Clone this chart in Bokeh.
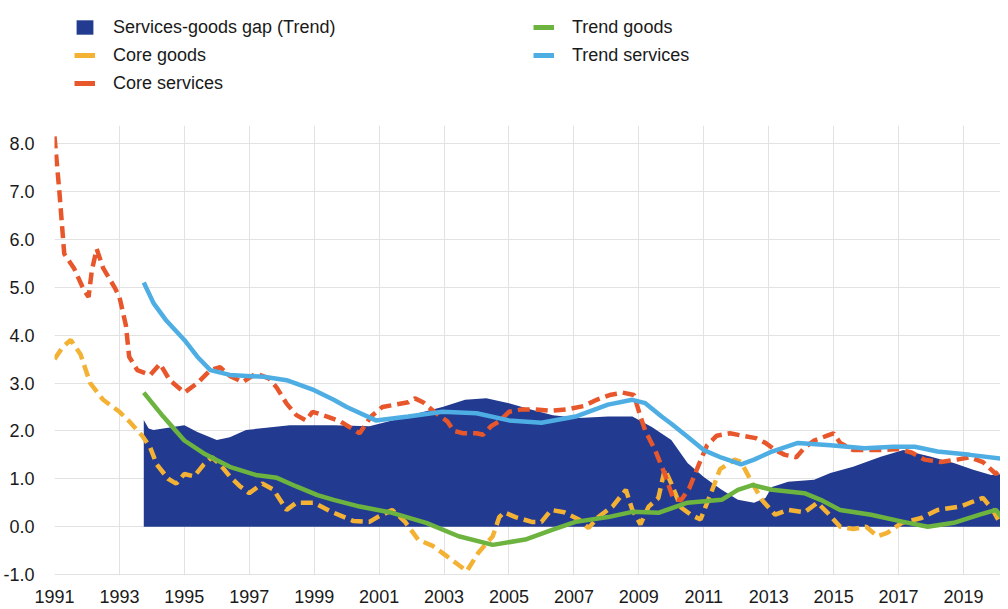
from bokeh.plotting import figure
from bokeh.models import Range1d, FixedTicker, Legend, LegendItem
from bokeh.layouts import column
from bokeh.embed import file_html
from bokeh.resources import INLINE

# ---------------- data ----------------
x_ticks = list(range(1991, 2021, 2))
x_tick_labels = [str(t) for t in x_ticks]
y_ticks = [-1, 0, 1, 2, 3, 4, 5, 6, 7, 8]
y_tick_labels = ["-1.0", "0.0", "1.0", "2.0", "3.0", "4.0", "5.0", "6.0", "7.0", "8.0"]

gap_t = [1993.75, 1993.9, 1994.05, 1995.0, 1995.4, 1996.0, 1996.4, 1996.9, 1997.45, 1998.25,
         1999.6, 2000.7, 2001.4, 2002.2, 2002.95, 2003.65, 2004.3, 2005.0, 2005.7, 2006.35,
         2007.15, 2008.05, 2008.8, 2009.4, 2010.0, 2010.5, 2011.0, 2011.55, 2012.05, 2012.55,
         2012.9, 2013.1, 2013.6, 2014.4, 2014.9, 2015.6, 2016.45, 2017.15, 2018.0, 2018.7,
         2019.3, 2019.85, 2020.17]
gap_v = [2.23, 2.05, 2.02, 2.12, 1.98, 1.81, 1.87, 2.02, 2.06, 2.12,
         2.12, 2.10, 2.22, 2.37, 2.50, 2.65, 2.68, 2.58, 2.44, 2.33,
         2.27, 2.30, 2.30, 2.08, 1.81, 1.33, 1.04, 0.77, 0.56, 0.50,
         0.60, 0.83, 0.94, 0.98, 1.12, 1.25, 1.46, 1.60, 1.46, 1.33,
         1.19, 1.08, 1.10]

core_goods_t = [1991.0, 1991.25, 1991.5, 1991.8, 1992.1, 1992.5, 1993.0, 1993.3, 1993.7, 1993.95,
                1994.15, 1994.5, 1994.75, 1995.0, 1995.3, 1995.6, 1995.85, 1996.1, 1996.4, 1996.7,
                1997.0, 1997.4, 1997.75, 1998.15, 1998.45, 1999.0, 1999.5, 2000.2, 2000.7, 2000.95,
                2001.4, 2001.8, 2002.2, 2002.65, 2003.05, 2003.45, 2003.7, 2004.05, 2004.5, 2004.7,
                2004.85, 2005.2, 2005.7, 2006.0, 2006.3, 2006.7, 2007.15, 2007.45, 2007.75, 2008.2,
                2008.6, 2008.8, 2009.05, 2009.3, 2009.6, 2009.8, 2010.0, 2010.3, 2010.6, 2010.9,
                2011.25, 2011.5, 2011.95, 2012.15, 2012.5, 2012.8, 2013.2, 2013.6, 2014.1, 2014.5,
                2014.8, 2015.2, 2015.6, 2016.0, 2016.35, 2016.65, 2017.1, 2017.7, 2018.2, 2018.9,
                2019.2, 2019.6, 2019.9, 2020.15]
core_goods_v = [3.50, 3.75, 3.90, 3.60, 3.00, 2.65, 2.40, 2.20, 1.90, 1.65,
                1.30, 1.00, 0.90, 1.10, 1.05, 1.30, 1.45, 1.30, 1.05, 0.85,
                0.70, 0.90, 0.77, 0.35, 0.50, 0.50, 0.32, 0.12, 0.10, 0.20,
                0.35, 0.10, -0.27, -0.40, -0.60, -0.80, -0.93, -0.55, -0.20, 0.20,
                0.30, 0.20, 0.10, 0.10, 0.35, 0.30, 0.15, -0.03, 0.20, 0.43,
                0.77, 0.35, 0.05, 0.42, 0.60, 1.20, 0.90, 0.40, 0.25, 0.15,
                0.75, 1.20, 1.40, 1.35, 0.90, 0.55, 0.25, 0.35, 0.30, 0.50,
                0.30, 0.00, -0.05, 0.00, -0.20, -0.13, 0.08, 0.18, 0.35, 0.42,
                0.50, 0.60, 0.35, 0.05]

core_serv_t = [1991.0, 1991.15, 1991.3, 1991.6, 1991.9, 1992.05, 1992.15, 1992.3, 1992.5, 1992.85,
               1993.0, 1993.2, 1993.3, 1993.55, 1993.95, 1994.25, 1994.55, 1995.0, 1995.4, 1995.8,
               1996.1, 1996.4, 1996.8, 1997.2, 1997.6, 1997.85, 1998.15, 1998.45, 1998.75, 1998.95,
               1999.4, 1999.8, 2000.4, 2000.75, 2001.1, 2001.5, 2001.9, 2002.1, 2002.35, 2002.7,
               2003.1, 2003.3, 2003.6, 2004.0, 2004.2, 2004.45, 2004.7, 2005.0, 2005.4, 2005.8,
               2006.3, 2006.8, 2007.3, 2007.7, 2008.1, 2008.5, 2008.85, 2009.05, 2009.2, 2009.5,
               2009.8, 2010.05, 2010.3, 2010.55, 2010.85, 2011.1, 2011.4, 2011.8, 2012.2, 2012.6,
               2012.9, 2013.2, 2013.5, 2013.85, 2014.1, 2014.4, 2014.8, 2015.0, 2015.2, 2015.6,
               2016.0, 2016.5, 2017.0, 2017.4, 2017.8, 2018.3, 2018.8, 2019.2, 2019.6, 2020.0,
               2020.17]
core_serv_v = [8.15, 7.00, 5.70, 5.40, 4.95, 4.80, 5.35, 5.80, 5.40, 5.00,
               4.80, 4.20, 3.55, 3.27, 3.17, 3.40, 3.06, 2.80, 3.00, 3.27,
               3.33, 3.15, 3.02, 3.20, 3.10, 2.90, 2.57, 2.33, 2.22, 2.40,
               2.30, 2.20, 1.95, 2.30, 2.50, 2.55, 2.60, 2.68, 2.60, 2.40,
               2.20, 2.00, 1.95, 1.95, 1.92, 2.10, 2.20, 2.40, 2.45, 2.45,
               2.42, 2.45, 2.52, 2.65, 2.75, 2.80, 2.75, 2.30, 2.00, 1.60,
               1.10, 0.60, 0.55, 0.80, 1.30, 1.70, 1.90, 1.95, 1.90, 1.85,
               1.75, 1.60, 1.50, 1.45, 1.65, 1.80, 1.90, 1.95, 1.75, 1.60,
               1.60, 1.60, 1.62, 1.55, 1.40, 1.35, 1.40, 1.45, 1.35, 1.10,
               1.20]

trend_goods_t = [1993.75, 1994.35, 1995.0, 1995.6, 1996.4, 1997.2, 1997.85, 1998.45, 1999.1, 1999.6,
                 2000.4, 2001.4, 2002.45, 2003.45, 2004.5, 2005.5, 2006.35, 2007.05, 2008.05, 2008.8,
                 2009.6, 2010.5, 2011.55, 2012.05, 2012.5, 2013.1, 2014.1, 2014.6, 2015.2, 2016.15,
                 2017.15, 2017.9, 2018.7, 2019.5, 2020.0, 2020.17]
trend_goods_v = [2.80, 2.30, 1.80, 1.53, 1.25, 1.08, 1.02, 0.84, 0.66, 0.56,
                 0.42, 0.29, 0.08, -0.20, -0.38, -0.27, -0.06, 0.10, 0.20, 0.31,
                 0.29, 0.50, 0.56, 0.77, 0.87, 0.77, 0.70, 0.56, 0.35, 0.25,
                 0.10, 0.00, 0.08, 0.25, 0.35, 0.20]

trend_serv_t = [1993.75, 1994.05, 1994.45, 1995.0, 1995.4, 1995.8, 1996.4, 1997.45, 1998.15, 1999.0,
                1999.6, 2000.0, 2000.9, 2001.9, 2002.95, 2004.0, 2005.0, 2006.0, 2007.05, 2008.05,
                2008.8, 2009.2, 2009.7, 2010.0, 2010.5, 2011.0, 2011.55, 2012.15, 2012.55, 2013.1,
                2013.9, 2014.9, 2015.95, 2016.85, 2017.5, 2018.2, 2019.2, 2020.17]
trend_serv_v = [5.10, 4.67, 4.30, 3.90, 3.55, 3.27, 3.17, 3.13, 3.06, 2.85,
                2.65, 2.50, 2.22, 2.30, 2.40, 2.37, 2.22, 2.17, 2.30, 2.55,
                2.65, 2.58, 2.30, 2.15, 1.88, 1.60, 1.44, 1.30, 1.40, 1.57,
                1.75, 1.70, 1.64, 1.67, 1.67, 1.57, 1.50, 1.42]

labels = ["Services-goods gap (Trend)", "Core goods", "Core services", "Trend goods", "Trend services"]
colors = ["#223a8f", "#f4b234", "#e8572b", "#6cb43f", "#4eaee4"]

FONT = "Liberation Sans"
TEXT = "#1a1a1a"
W = 1000
LH = 125          # legend strip height
PH = 480          # chart height
LEFT = 50

# ---------------- legend strip ----------------
nan = float("nan")
lg = figure(width=W, height=LH, output_backend="svg", toolbar_location=None,
            x_range=Range1d(0, 1), y_range=Range1d(0, 1),
            x_axis_location=None, y_axis_location=None,
            min_border_left=0, min_border_right=0, min_border_top=0, min_border_bottom=0)
lg.grid.visible = False
lg.outline_line_color = None

sw_gap = lg.varea(x=[nan], y1=[nan], y2=[nan], fill_color=colors[0])
sw = [lg.line([nan], [nan], line_color=c, line_width=5) for c in colors[1:]]

common = dict(glyph_width=21, glyph_height=18, label_standoff=18, label_text_font=FONT,
              label_text_font_size="18px", label_text_color=TEXT, label_height=22,
              spacing=6, padding=0, margin=0, border_line_color=None,
              background_fill_alpha=0, orientation="vertical")
leg1 = Legend(items=[LegendItem(label=labels[0], renderers=[sw_gap]),
                     LegendItem(label=labels[1], renderers=[sw[0]]),
                     LegendItem(label=labels[2], renderers=[sw[1]])],
              location=(20, 31), **common)
leg2 = Legend(items=[LegendItem(label=labels[3], renderers=[sw[2]]),
                     LegendItem(label=labels[4], renderers=[sw[3]])],
              location=(479, 59), **common)
lg.add_layout(leg1)
lg.add_layout(leg2)

# ---------------- main chart ----------------
p = figure(width=W, height=PH, output_backend="svg", toolbar_location=None,
           x_range=Range1d(1991.0, 2020.14), y_range=Range1d(-1.02, 8.38),
           min_border_left=LEFT, min_border_right=0, min_border_top=0, min_border_bottom=29)
p.outline_line_color = None
p.background_fill_color = "white"

p.xaxis.ticker = FixedTicker(ticks=x_ticks)
p.xaxis.major_label_overrides = dict(zip(x_ticks, x_tick_labels))
p.yaxis.ticker = FixedTicker(ticks=y_ticks)
p.yaxis.major_label_overrides = dict(zip(y_ticks, y_tick_labels))
for ax in (p.xaxis, p.yaxis):
    ax.axis_line_color = None
    ax.major_tick_line_color = None
    ax.minor_tick_line_color = None
    ax.major_label_text_font = FONT
    ax.major_label_text_font_size = "18px"
    ax.major_label_text_color = TEXT
p.xaxis.major_label_standoff = 8
p.yaxis.major_label_standoff = 14

p.xgrid.grid_line_color = "#e2e2e2"
p.ygrid.grid_line_color = "#e2e2e2"

p.varea(x=gap_t, y1=[0] * len(gap_t), y2=gap_v, fill_color=colors[0], fill_alpha=1.0)
p.line(core_goods_t, core_goods_v, line_color=colors[1], line_width=4.5, line_dash="12 6")
p.line(core_serv_t, core_serv_v, line_color=colors[2], line_width=4.5, line_dash="12 6")
p.line(trend_goods_t, trend_goods_v, line_color=colors[3], line_width=4.5)
p.line(trend_serv_t, trend_serv_v, line_color=colors[4], line_width=4.5)

layout = column(lg, p, spacing=0)
open("out.html", "w").write(file_html(layout, INLINE))
